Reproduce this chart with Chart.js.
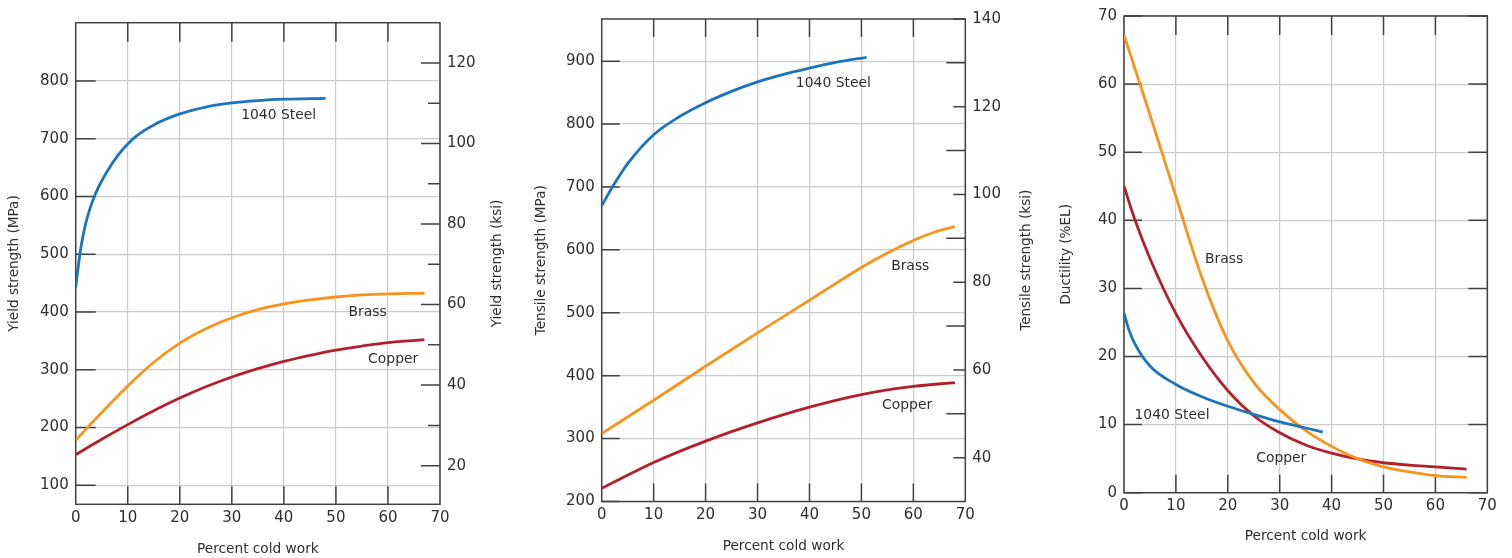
<!DOCTYPE html>
<html>
<head>
<meta charset="utf-8">
<script src="https://cdn.jsdelivr.net/npm/chart.js@4.4.1/dist/chart.umd.min.js"></script>
<style>
  body { margin: 0; background: #fff; width: 1512px; height: 558px; overflow: hidden; position: relative; }
  canvas { position: absolute; top: 0; }
</style>
</head>
<body>
<canvas id="yield" width="520" height="558" style="left:0"></canvas>
<canvas id="tensile" width="525" height="558" style="left:520px"></canvas>
<canvas id="ductility" width="467" height="558" style="left:1045px"></canvas>
<script>
// tick labels
const coldWorkTicks = [0, 10, 20, 30, 40, 50, 60, 70];
const yieldMpaTicks = [100, 200, 300, 400, 500, 600, 700, 800];
const yieldKsiTicks = [20, 40, 60, 80, 100, 120];
const yieldKsiMinor = [30, 50, 70, 90, 110];
const tensileMpaTicks = [200, 300, 400, 500, 600, 700, 800, 900];
const tensileKsiTicks = [40, 60, 80, 100, 120, 140];
const tensileKsiMinor = [50, 70, 90, 110, 130];
const ductilityTicks = [0, 10, 20, 30, 40, 50, 60, 70];

// yield strength (MPa) vs percent cold work
const yieldSteelX = [0, 1, 2, 3, 4, 5, 6, 8, 10, 12, 15, 20, 25, 30, 35, 40, 48];
const yieldSteel = [443, 512, 556, 586, 609, 627, 643, 670, 691, 707, 724, 743, 755, 762, 766, 768.5, 770];
const yieldBrassX = [0, 5, 10, 15, 20, 25, 30, 35, 40, 45, 50, 55, 60, 67];
const yieldBrass = [178, 226, 272, 313, 346, 371, 390, 404, 414, 421, 426, 429.5, 431.5, 432.5];
const yieldCopperX = [0, 5, 10, 15, 20, 25, 30, 35, 40, 45, 50, 55, 60, 67];
const yieldCopper = [153, 179.5, 205, 229, 251, 270.5, 287.5, 302, 314.5, 325, 334, 341, 347, 352];

// tensile strength (MPa) vs percent cold work
const tensileSteelX = [0, 2, 5, 10, 15, 20, 25, 30, 35, 40, 45, 51];
const tensileSteel = [670, 699, 737, 783, 812, 834, 852, 867, 879, 889, 898, 906];
const tensileBrassX = [0, 10, 20, 30, 40, 50, 55, 60, 64, 68];
const tensileBrass = [308, 361, 415, 468, 520, 572, 595, 615, 628, 637];
const tensileCopperX = [0, 10, 20, 30, 40, 50, 60, 68];
const tensileCopper = [221, 262, 296, 325, 350, 370, 383, 389];

// ductility (%EL) vs percent cold work
const ductSteelX = [0, 1, 2, 5, 10, 15, 20, 25, 30, 35, 38.3];
const ductSteel = [26.4, 23.8, 22, 18.6, 15.9, 14.1, 12.7, 11.5, 10.4, 9.5, 8.9];
const ductBrassX = [0, 5, 10, 15, 20, 25, 30, 35, 40, 45, 50, 55, 60, 66];
const ductBrass = [67.2, 55.5, 43.5, 31.6, 22.3, 16.2, 12.2, 9.1, 6.8, 5.0, 3.8, 3.05, 2.5, 2.25];
const ductCopperX = [0, 2, 5, 10, 15, 20, 25, 30, 35, 40, 45, 50, 55, 60, 66];
const ductCopper = [45, 40.3, 34.4, 26.3, 20.0, 15.0, 11.3, 8.8, 7.0, 5.8, 4.95, 4.4, 4.05, 3.8, 3.45];

const FONT = 'DejaVu Sans';
const INK = '#2f2f2f';
const FRAME = '#424242';
const GRID = '#cbcbcb';
const STEEL = '#1b75bc';
const BRASS = '#f7941d';
const COPPER = '#b3202a';

function pts(xs, ys) {
  return xs.map((x, i) => ({ x: x, y: ys[i] }));
}

function fixedTicks(values) {
  return scale => { scale.ticks = values.map(v => ({ value: v })); };
}

function curve(xs, ys, color) {
  return {
    data: pts(xs, ys),
    borderColor: color,
    borderWidth: 2.8,
    pointRadius: 0,
    fill: false,
    cubicInterpolationMode: 'monotone'
  };
}

// frame box plus the short inward tick marks
const frameMarks = {
  id: 'frameMarks',
  beforeDatasetsDraw(chart, args, opts) {
    const { ctx, chartArea: a, scales } = chart;
    ctx.save();
    ctx.strokeStyle = FRAME;
    ctx.lineWidth = 1.5;
    ctx.beginPath();
    opts.marks.forEach(m => {
      const s = scales[m.scale];
      m.values.forEach(v => {
        const p = s.getPixelForValue(v);
        if (m.edge === 'top') { ctx.moveTo(p, a.top); ctx.lineTo(p, a.top + m.len); }
        if (m.edge === 'bottom') { ctx.moveTo(p, a.bottom); ctx.lineTo(p, a.bottom - m.len); }
        if (m.edge === 'left') { ctx.moveTo(a.left, p); ctx.lineTo(a.left + m.len, p); }
        if (m.edge === 'right') { ctx.moveTo(a.right, p); ctx.lineTo(a.right - m.len, p); }
      });
    });
    ctx.stroke();
    ctx.strokeRect(a.left, a.top, a.right - a.left, a.bottom - a.top);
    ctx.restore();
  }
};

// curve names next to the lines, and the right-hand axis title read bottom to top
const curveLabels = {
  id: 'curveLabels',
  afterDatasetsDraw(chart, args, opts) {
    const { ctx, scales, chartArea: a } = chart;
    ctx.save();
    ctx.font = '13.9px "' + FONT + '"';
    ctx.fillStyle = INK;
    ctx.textAlign = 'center';
    ctx.textBaseline = 'middle';
    opts.items.forEach(t => {
      ctx.fillText(t.text, scales.x.getPixelForValue(t.x), scales.y.getPixelForValue(t.y));
    });
    if (opts.rightTitle) {
      ctx.font = '13.6px "' + FONT + '"';
      ctx.translate(a.right + opts.rightTitle.offset, (a.top + a.bottom) / 2);
      ctx.rotate(-Math.PI / 2);
      ctx.fillText(opts.rightTitle.text, 0, 0);
    }
    ctx.restore();
  }
};

function xAxis(height, titlePad) {
  return {
    type: 'linear', position: 'bottom', min: 0, max: 70,
    afterBuildTicks: fixedTicks(coldWorkTicks),
    afterFit: s => { s.height = height; },
    grid: { color: GRID, lineWidth: 1.2, drawTicks: false },
    border: { display: false },
    ticks: { padding: 4.6, color: INK, font: { family: FONT, size: 15 }, autoSkip: false, maxRotation: 0 },
    title: { display: true, text: 'Percent cold work', color: INK, font: { family: FONT, size: 13.7 }, padding: { top: 0, bottom: titlePad } }
  };
}

function yAxis(side, min, max, ticks, width, text, titlePad, grid) {
  return {
    type: 'linear', position: side, min: min, max: max,
    afterBuildTicks: fixedTicks(ticks),
    afterFit: s => { s.width = width; },
    grid: { display: grid, color: GRID, lineWidth: 1.2, drawTicks: false },
    border: { display: false },
    ticks: { padding: 7, color: INK, font: { family: FONT, size: 15 }, autoSkip: false },
    title: { display: !!text, text: text, color: INK, font: { family: FONT, size: 13.6 }, padding: { top: titlePad, bottom: 0 } }
  };
}

function panel(id, datasets, scales, padding, marks, labels, rightTitle) {
  new Chart(document.getElementById(id), {
    type: 'line',
    data: { datasets: datasets },
    options: {
      responsive: false,
      animation: false,
      layout: { padding: padding },
      scales: scales,
      plugins: {
        legend: { display: false },
        tooltip: { enabled: false },
        frameMarks: { marks: marks },
        curveLabels: { items: labels, rightTitle: rightTitle }
      }
    },
    plugins: [frameMarks, curveLabels]
  });
}

const inner = [10, 20, 30, 40, 50, 60];

panel('yield',
  [curve(yieldSteelX, yieldSteel, STEEL), curve(yieldBrassX, yieldBrass, BRASS), curve(yieldCopperX, yieldCopper, COPPER)],
  {
    x: xAxis(53.7, 0),
    y: yAxis('left', 67, 901, yieldMpaTicks, 75.7, 'Yield strength (MPa)', 6.3, true),
    yr: yAxis('right', 10.4, 130, yieldKsiTicks, 80, '', 0, false)
  },
  { top: 22.7, right: 0, bottom: 0, left: 0 },
  [
    { scale: 'x', edge: 'top', values: inner, len: 19 },
    { scale: 'x', edge: 'bottom', values: inner, len: 18 },
    { scale: 'y', edge: 'left', values: yieldMpaTicks, len: 20 },
    { scale: 'yr', edge: 'right', values: yieldKsiTicks, len: 19 },
    { scale: 'yr', edge: 'right', values: yieldKsiMinor, len: 12 }
  ],
  [
    { text: '1040 Steel', x: 39.0, y: 740 },
    { text: 'Brass', x: 56.1, y: 400 },
    { text: 'Copper', x: 61.0, y: 318 }
  ],
  { text: 'Yield strength (ksi)', offset: 57 });

panel('tensile',
  [curve(tensileSteelX, tensileSteel, STEEL), curve(tensileBrassX, tensileBrass, BRASS), curve(tensileCopperX, tensileCopper, COPPER)],
  {
    x: xAxis(56.5, 3.1),
    y: yAxis('left', 200, 967, tensileMpaTicks, 81.7, 'Tensile strength (MPa)', 13.5, true),
    yr: yAxis('right', 30, 140, tensileKsiTicks, 79.7, '', 0, false)
  },
  { top: 19, right: 0, bottom: 0, left: 0 },
  [
    { scale: 'x', edge: 'top', values: inner, len: 18 },
    { scale: 'x', edge: 'bottom', values: inner, len: 18 },
    { scale: 'y', edge: 'left', values: tensileMpaTicks, len: 18 },
    { scale: 'yr', edge: 'right', values: tensileKsiTicks, len: 12 },
    { scale: 'yr', edge: 'right', values: tensileKsiMinor, len: 19 }
  ],
  [
    { text: '1040 Steel', x: 44.6, y: 864 },
    { text: 'Brass', x: 59.4, y: 574 },
    { text: 'Copper', x: 58.8, y: 353 }
  ],
  { text: 'Tensile strength (ksi)', offset: 61.4 });

panel('ductility',
  [curve(ductSteelX, ductSteel, STEEL), curve(ductBrassX, ductBrass, BRASS), curve(ductCopperX, ductCopper, COPPER)],
  {
    x: xAxis(65.3, 13.1),
    y: yAxis('left', 0, 70, ductilityTicks, 79, 'Ductility (%EL)', 13.8, true)
  },
  { top: 10.7, right: 24.7, bottom: 0, left: 0 },
  [
    { scale: 'x', edge: 'top', values: inner, len: 19 },
    { scale: 'x', edge: 'bottom', values: inner, len: 18 },
    { scale: 'y', edge: 'left', values: ductilityTicks, len: 18 },
    { scale: 'y', edge: 'right', values: ductilityTicks, len: 19 }
  ],
  [
    { text: 'Brass', x: 19.3, y: 34.2 },
    { text: '1040 Steel', x: 9.25, y: 11.3 },
    { text: 'Copper', x: 30.3, y: 5.0 }
  ],
  null);
</script>
</body>
</html>
